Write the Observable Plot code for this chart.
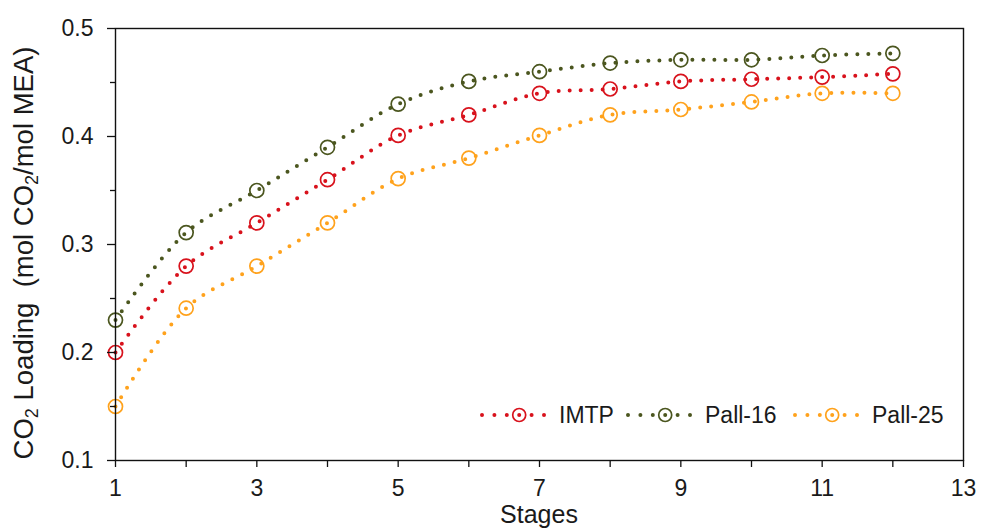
<!DOCTYPE html>
<html><head><meta charset="utf-8">
<script src="https://cdn.jsdelivr.net/npm/d3@7"></script>
<script src="https://cdn.jsdelivr.net/npm/@observablehq/plot@0.6"></script>
<style>
body{margin:0;background:#fff;font-family:"Liberation Sans",Arial,sans-serif}
#wrap{position:relative;width:981px;height:530px}
</style>
</head><body><div id="wrap"></div>
<script>
const stages = [1, 2, 3, 4, 5, 6, 7, 8, 9, 10, 11, 12];
const imtp   = [0.200, 0.280, 0.320, 0.360, 0.401, 0.420, 0.440, 0.444, 0.451, 0.453, 0.455, 0.458];
const pall16 = [0.230, 0.311, 0.350, 0.390, 0.430, 0.451, 0.460, 0.468, 0.471, 0.471, 0.475, 0.477];
const pall25 = [0.150, 0.241, 0.280, 0.320, 0.361, 0.380, 0.401, 0.420, 0.425, 0.432, 0.440, 0.440];
const seriesNames  = ["IMTP", "Pall-16", "Pall-25"];
const seriesColors = ["#d8121c", "#4b561f", "#ffa21c"];
const xTicks      = [1, 3, 5, 7, 9, 11, 13];
const xMinorTicks = [2, 4, 6, 8, 10, 12];
const yTicks      = [0.1, 0.2, 0.3, 0.4, 0.5];
const yMinorTicks = [0.15, 0.25, 0.35, 0.45];
const xTitle = "Stages";

const seriesValues = [imtp, pall16, pall25];
const rows = [];
seriesValues.forEach((vals, i) => vals.forEach((v, j) =>
  rows.push({stage: stages[j], loading: v, series: seriesNames[i]})));

const W = 981, H = 530, ML = 115, MR = 18, MT = 28, MB = 70;
const font = "'Liberation Sans', Arial, sans-serif";

const chart = Plot.plot({
  width: W, height: H,
  marginLeft: ML, marginRight: MR, marginTop: MT, marginBottom: MB,
  style: {fontFamily: font, fontSize: "23px", color: "#1a1a1a", background: "#fff", overflow: "visible"},
  x: {domain: [1, 13], label: null},
  y: {domain: [0.1, 0.5], label: null},
  color: {domain: seriesNames, range: seriesColors},
  marks: [
    Plot.line(rows, {x: "stage", y: "loading", stroke: "series", z: "series",
      curve: "catmull-rom", strokeWidth: 4, strokeDasharray: "0 11", strokeLinecap: "round"}),
    Plot.dot(rows, {x: "stage", y: "loading", stroke: "series", fill: "none", r: 7, strokeWidth: 1.7}),
    Plot.frame({stroke: "#111", strokeWidth: 1.4}),
    Plot.axisX(xTicks, {tickSize: 7, tickPadding: 12, tickFormat: d => String(d), stroke: "#111", strokeWidth: 1.3, fontSize: 23}),
    Plot.axisX(xMinorTicks, {tickSize: 7, tickFormat: () => "", stroke: "#111", strokeWidth: 1.3}),
    Plot.axisY(yTicks, {tickSize: 8, tickPadding: 14, tickFormat: d => d.toFixed(1), stroke: "#111", strokeWidth: 1.3, fontSize: 23}),
    Plot.axisY(yMinorTicks, {tickSize: 5, tickFormat: () => "", stroke: "#111", strokeWidth: 1.3})
  ]
});
document.getElementById("wrap").appendChild(chart);

const svg = d3.select(chart);
const plotCx = (ML + (W - MR)) / 2;

// X axis title
svg.append("text")
  .attr("x", plotCx).attr("y", 523)
  .attr("text-anchor", "middle")
  .style("font-family", font).style("font-size", "25px").attr("fill", "#1a1a1a")
  .text(xTitle);

// Y axis title with subscripts
const yt = svg.append("text")
  .attr("transform", `translate(33,${(MT + (H - MB)) / 2 + 9}) rotate(-90)`)
  .attr("text-anchor", "middle")
  .style("font-family", font).style("font-size", "27.5px").attr("fill", "#1a1a1a");
yt.append("tspan").text("CO");
yt.append("tspan").attr("font-size", "18px").attr("dy", 5).text("2");
yt.append("tspan").attr("dy", -5).text(" Loading\u00a0 (mol CO");
yt.append("tspan").attr("font-size", "18px").attr("dy", 5).text("2");
yt.append("tspan").attr("dy", -5).text("/mol MEA)");

// Legend (inside plot, bottom right)
const legendX = [482, 628, 795];
const legendY = 415;
seriesNames.forEach((name, i) => {
  const g = svg.append("g").attr("transform", `translate(${legendX[i]},${legendY})`);
  g.append("line").attr("x1", 0).attr("x2", 62.5).attr("y1", 0).attr("y2", 0)
    .attr("stroke", seriesColors[i]).attr("stroke-width", 4)
    .attr("stroke-dasharray", "0 12.4").attr("stroke-linecap", "round");
  g.append("circle").attr("cx", 37.2).attr("cy", 0).attr("r", 6.5)
    .attr("fill", "none").attr("stroke", seriesColors[i]).attr("stroke-width", 1.7);
  g.append("text").attr("x", 77).attr("y", 8)
    .attr("text-anchor", "start")
    .style("font-family", font).style("font-size", "23px").attr("fill", "#1a1a1a")
    .text(name);
});
</script>
</body></html>
